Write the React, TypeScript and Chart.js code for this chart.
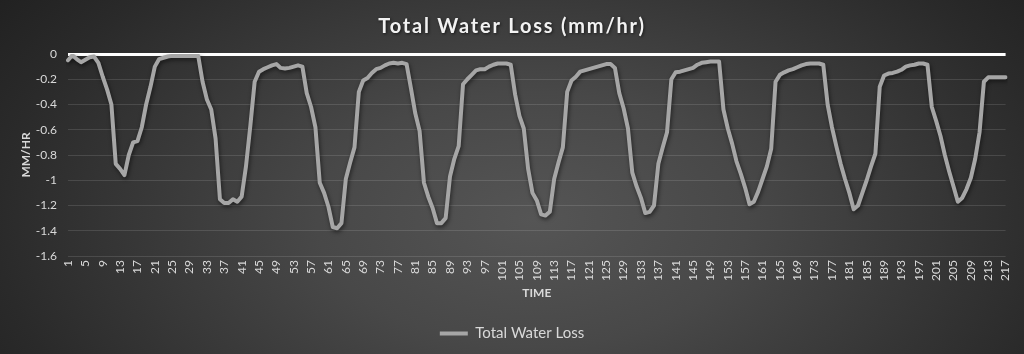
import React, { useEffect, useRef } from 'react';
import { Chart, registerables } from 'chart.js';

Chart.register(...registerables);

const timeLabels: string[] = Array.from({ length: 217 }, (_, i) => String(i + 1));

const totalWaterLoss: number[] = [
  -0.05, -0.01, -0.04, -0.065, -0.045, -0.025, -0.02, -0.07, -0.18, -0.28,
  -0.40, -0.87, -0.91, -0.96, -0.80, -0.70, -0.69, -0.58, -0.40, -0.26,
  -0.10, -0.04, -0.03, -0.02, -0.015, -0.015, -0.015, -0.015, -0.015, -0.015,
  -0.015, -0.22, -0.36, -0.44, -0.67, -1.15, -1.18, -1.18, -1.15, -1.17,
  -1.13, -0.89, -0.57, -0.22, -0.14, -0.12, -0.105, -0.09, -0.08, -0.11,
  -0.115, -0.11, -0.10, -0.09, -0.10, -0.31, -0.42, -0.58, -1.02, -1.10,
  -1.21, -1.37, -1.38, -1.34, -0.99, -0.86, -0.74, -0.30, -0.21, -0.19,
  -0.15, -0.12, -0.11, -0.09, -0.075, -0.07, -0.075, -0.07, -0.08, -0.27,
  -0.47, -0.61, -1.02, -1.13, -1.22, -1.34, -1.34, -1.30, -0.97, -0.83,
  -0.73, -0.24, -0.20, -0.165, -0.13, -0.12, -0.12, -0.10, -0.085, -0.075,
  -0.075, -0.075, -0.085, -0.32, -0.49, -0.59, -0.91, -1.10, -1.16, -1.27,
  -1.28, -1.25, -0.99, -0.86, -0.74, -0.30, -0.21, -0.18, -0.14, -0.13,
  -0.12, -0.11, -0.10, -0.09, -0.08, -0.08, -0.11, -0.31, -0.43, -0.59,
  -0.94, -1.05, -1.14, -1.26, -1.25, -1.20, -0.87, -0.74, -0.62, -0.20,
  -0.145, -0.14, -0.13, -0.12, -0.11, -0.085, -0.07, -0.065, -0.06, -0.06,
  -0.06, -0.44, -0.59, -0.71, -0.85, -0.95, -1.06, -1.19, -1.17, -1.09,
  -0.99, -0.89, -0.75, -0.22, -0.165, -0.145, -0.13, -0.12, -0.105, -0.09,
  -0.08, -0.075, -0.075, -0.075, -0.085, -0.40, -0.58, -0.73, -0.87, -0.99,
  -1.10, -1.23, -1.20, -1.10, -1.00, -0.89, -0.79, -0.26, -0.17, -0.155,
  -0.15, -0.14, -0.125, -0.10, -0.09, -0.085, -0.075, -0.075, -0.085, -0.42,
  -0.53, -0.65, -0.80, -0.93, -1.05, -1.17, -1.14, -1.07, -0.98, -0.83,
  -0.62, -0.22, -0.185, -0.185, -0.185, -0.185, -0.185,
];

const seriesName = 'Total Water Loss';
const chartTitle = 'Total Water Loss (mm/hr)';
const yTitle = 'MM/HR';
const xTitle = 'TIME';

const FONT = 'Lato';
const TEXT = '#d9d9d9';

const shadowPlugin = {
  id: 'lineShadow',
  beforeDraw(chart: any) {
    const tb = chart.titleBlock;
    if (tb && !tb.__spaced) {
      const orig = tb.draw.bind(tb);
      tb.draw = (area: any) => {
        const ctx = chart.ctx;
        ctx.save();
        (ctx as any).letterSpacing = '1.8px';
        ctx.shadowColor = 'rgba(0,0,0,0.6)';
        ctx.shadowBlur = 3;
        ctx.shadowOffsetX = 1;
        ctx.shadowOffsetY = 1;
        orig(area);
        ctx.restore();
      };
      tb.__spaced = true;
    }
  },
  beforeDatasetDraw(chart: any) {
    const ctx = chart.ctx;
    ctx.save();
    ctx.shadowColor = 'rgba(0,0,0,0.55)';
    ctx.shadowBlur = 4;
    ctx.shadowOffsetX = 1;
    ctx.shadowOffsetY = 2;
  },
  afterDatasetDraw(chart: any) {
    chart.ctx.restore();
  },
};

export default function App() {
  const canvasRef = useRef<HTMLCanvasElement | null>(null);

  useEffect(() => {
    if (!canvasRef.current) return;
    const chart = new Chart(canvasRef.current, {
      type: 'line',
      data: {
        labels: timeLabels,
        datasets: [
          {
            label: seriesName,
            data: totalWaterLoss,
            borderColor: '#a6a6a6',
            backgroundColor: '#a6a6a6',
            borderWidth: 4,
            pointRadius: 0,
            pointHoverRadius: 0,
            tension: 0,
            borderJoinStyle: 'round',
            borderCapStyle: 'round',
            fill: false,
          },
        ],
      },
      options: {
        responsive: false,
        animation: false,
        devicePixelRatio: 1,
        layout: { padding: { left: 16, right: 16, top: 0, bottom: 3 } },
        plugins: {
          title: {
            display: true,
            text: chartTitle,
            color: '#f2f2f2',
            font: { family: FONT, size: 20, weight: 'bold' },
            padding: { top: 15, bottom: 15 },
          },
          legend: {
            display: true,
            position: 'bottom',
            labels: {
              color: TEXT,
              font: { family: FONT, size: 15 },
              usePointStyle: true,
              pointStyle: 'line',
              pointStyleWidth: 28,
              boxHeight: 15,
              padding: 14,
            },
          },
          tooltip: { enabled: false },
        },
        scales: {
          x: {
            type: 'category',
            offset: false,
            grid: { display: false, drawTicks: false },
            border: { display: false },
            ticks: {
              autoSkip: false,
              minRotation: 90,
              maxRotation: 90,
              padding: 4,
              color: TEXT,
              font: { family: FONT, size: 12 },
              callback: (_v: any, i: number) => (i % 4 === 0 ? timeLabels[i] : ''),
            },
            title: {
              display: true,
              text: xTitle,
              color: TEXT,
              font: { family: FONT, size: 12, weight: 'bold' },
              padding: { top: 0, bottom: 12 },
            },
            afterFit: (scale: any) => {
              scale.height = 56;
            },
          },
          y: {
            min: -1.6,
            max: 0,
            grid: {
              color: (c: any) => (c.tick && Math.abs(c.tick.value) < 1e-9 ? '#ffffff' : 'rgba(255,255,255,0.12)'),
              lineWidth: (c: any) => (c.tick && Math.abs(c.tick.value) < 1e-9 ? 3 : 1),
              drawTicks: false,
            },
            border: { display: false },
            ticks: {
              stepSize: 0.2,
              padding: 11,
              color: TEXT,
              font: { family: FONT, size: 12 },
              callback: (v: any) => String(Math.round(Number(v) * 10) / 10),
            },
            title: {
              display: true,
              text: yTitle,
              color: TEXT,
              font: { family: FONT, size: 12, weight: 'bold' },
              padding: { top: 3, bottom: 0 },
            },
            afterFit: (scale: any) => {
              scale.width = 52;
            },
          },
        },
      },
      plugins: [shadowPlugin],
    } as any);
    return () => chart.destroy();
  }, []);

  return (
    <div
      style={{
        position: 'absolute',
        left: 0,
        top: 0,
        width: 1024,
        height: 354,
        background: 'radial-gradient(ellipse 70% 120% at 52% 62%, #555555 0%, #484848 30%, #2a2a2a 75%, #1c1c1c 100%)',
      }}
    >
      <canvas ref={canvasRef} width={1024} height={354} style={{ display: 'block' }} />
    </div>
  );
}
